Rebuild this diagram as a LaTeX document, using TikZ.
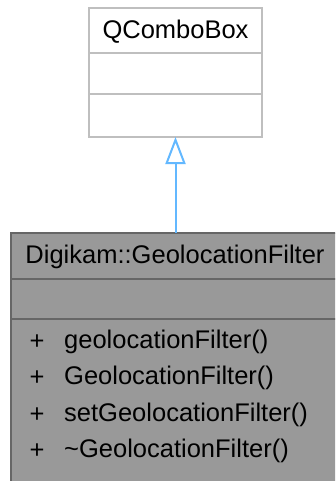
\documentclass[tikz,border=0pt]{standalone}
\usepackage{fontspec}
\setmainfont{Liberation Sans}
\usetikzlibrary{arrows.meta}
\definecolor{edgeblue}{HTML}{63B8FF}
\definecolor{boxgray}{HTML}{999999}
\definecolor{boxborder}{HTML}{666666}
\definecolor{lightborder}{HTML}{BFBFBF}
\begin{document}
\begin{tikzpicture}[x=1pt,y=-1pt,
  txt/.style={inner sep=0pt,font=\fontsize{25.5}{30}\selectfont,text=black},
  cell/.style={line width=2pt}]
\useasboundingbox (0,0) rectangle (335,481);
\clip (0,0) rectangle (335,481);
% top class
\draw[cell,draw=lightborder,fill=white] (89,8) rectangle (262,137);
\draw[cell,draw=lightborder] (89,53) -- (262,53);
\draw[cell,draw=lightborder] (89,94) -- (262,94);
\node[txt] (base) at (175.5,32) {QComboBox};
\coordinate (basebot) at (175.5,137);
% derived class
\draw[cell,draw=boxborder,fill=boxgray] (11,233) rectangle (340,490);
\draw[cell,draw=boxborder] (11,279) -- (340,279);
\draw[cell,draw=boxborder] (11,319) -- (340,319);
\coordinate (dertop) at (175.5,233);
\node[txt] (title) at (175,257) {Digikam::GeolocationFilter};
\foreach \y/\t [count=\i] in {342/geolocationFilter(),378/GeolocationFilter(),415/setGeolocationFilter(),451/{\char`\~GeolocationFilter()}}{
  \node[txt] (p\i) at (37,\y) {+};
  \node[txt,anchor=west] (m\i) at (64,\y) {\t};
}
% inheritance
\draw[line width=2pt,draw=edgeblue,-{Triangle[open,length=27pt,width=20pt,line width=2pt]}] (dertop) -- (basebot);
\end{tikzpicture}
\end{document}
